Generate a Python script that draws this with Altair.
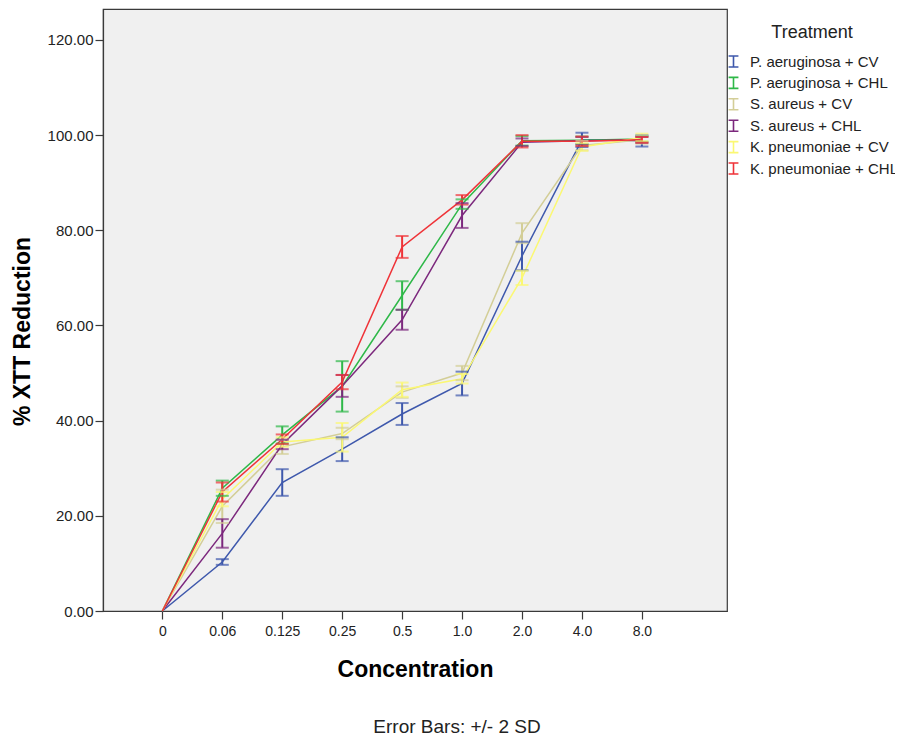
import altair as alt
import pandas as pd

conc_labels = ["0", "0.06", "0.125", "0.25", "0.5", "1.0", "2.0", "4.0", "8.0"]
treatments = ["P. aeruginosa + CV", "P. aeruginosa + CHL", "S. aureus + CV",
              "S. aureus + CHL", "K. pneumoniae + CV", "K. pneumoniae + CHL"]
colors = ["#3E58AC", "#2EB848", "#D3CE97", "#7C287D", "#FBF873", "#EF3338"]

pa_cv_mean = [0, 10.3, 27.0, 34.0, 41.4, 47.8, 74.6, 99.0, 98.8]
pa_cv_err = [0, 0.6, 2.8, 2.5, 2.3, 2.5, 3.0, 1.5, 1.2]
pa_chl_mean = [0, 25.8, 37.0, 47.2, 66.3, 85.5, 98.8, 98.9, 99.2]
pa_chl_err = [0, 1.6, 1.8, 5.3, 3.0, 1.0, 1.0, 0.8, 0.6]
sa_cv_mean = [0, 22.0, 34.5, 37.3, 46.0, 50.0, 79.4, 97.8, 99.0]
sa_cv_err = [0, 3.5, 1.5, 1.2, 1.2, 1.5, 2.1, 1.0, 0.8]
sa_chl_mean = [0, 16.3, 35.0, 47.3, 61.2, 83.1, 98.5, 98.8, 99.0]
sa_chl_err = [0, 3.0, 1.0, 2.3, 2.1, 2.6, 0.8, 0.8, 0.6]
kp_cv_mean = [0, 23.5, 35.5, 36.5, 46.5, 48.8, 70.0, 97.5, 99.5]
kp_cv_err = [0, 1.5, 1.0, 3.0, 1.5, 1.0, 1.5, 0.8, 0.8]
kp_chl_mean = [0, 25.0, 36.1, 48.1, 76.5, 86.4, 98.7, 98.7, 99.0]
kp_chl_err = [0, 2.0, 1.0, 1.5, 2.3, 1.0, 1.3, 1.0, 0.6]

means = [pa_cv_mean, pa_chl_mean, sa_cv_mean, sa_chl_mean, kp_cv_mean, kp_chl_mean]
errs = [pa_cv_err, pa_chl_err, sa_cv_err, sa_chl_err, kp_cv_err, kp_chl_err]

rows = []
for ti, t in enumerate(treatments):
    for ci, lab in enumerate(conc_labels):
        m = means[ti][ci]
        e = errs[ti][ci]
        rows.append({"idx": ci, "conc": lab, "Treatment": t, "order": ti,
                     "mean": m, "lo": m - e, "hi": m + e, "err": e})
df = pd.DataFrame(rows)

label_expr = "[" + ",".join("'" + l + "'" for l in conc_labels) + "][datum.value]"
FONT = "Liberation Sans"

x_enc = alt.X("idx:Q",
              scale=alt.Scale(domain=[-0.99, 9.42], nice=False, zero=False),
              axis=alt.Axis(title="Concentration", values=list(range(len(conc_labels))),
                            labelExpr=label_expr, grid=False, tickSize=8,
                            labelPadding=5, titlePadding=20))
y_scale = alt.Scale(domain=[0, 126.5], nice=False)
color_scale = alt.Scale(domain=treatments, range=colors)
color_enc = alt.Color("Treatment:N", scale=color_scale,
                      legend=alt.Legend(orient="none", legendX=623, legendY=15,
                                        title="Treatment",
                                        symbolType="M-0.9,-1H0.9M0,-1V1M-0.9,1H0.9",
                                        symbolSize=120, symbolStrokeWidth=1.6,
                                        labelOffset=9, rowPadding=2.4,
                                        titlePadding=12))

base = alt.Chart(df)

lines = base.mark_line(strokeWidth=1.5).encode(
    x=x_enc,
    y=alt.Y("mean:Q", scale=y_scale,
            axis=alt.Axis(title="% XTT Reduction", format=".2f",
                          values=[0, 20, 40, 60, 80, 100, 120], grid=False,
                          tickSize=8, labelPadding=2, titlePadding=13,
                          labelFontSize=15, titleY=322)),
    color=color_enc,
    order=alt.Order("idx:Q"),
)

eb = base.transform_filter("datum.err > 0")
nolegend = alt.Color("Treatment:N", scale=color_scale, legend=None)

rules = eb.mark_rule(strokeWidth=2).encode(
    x="idx:Q",
    y=alt.Y("lo:Q", scale=y_scale),
    y2="hi:Q",
    color=nolegend,
)
cap_lo = eb.mark_tick(thickness=2, size=13, orient="horizontal").encode(
    x="idx:Q",
    y=alt.Y("lo:Q", scale=y_scale),
    color=nolegend,
)
cap_hi = eb.mark_tick(thickness=2, size=13, orient="horizontal").encode(
    x="idx:Q",
    y=alt.Y("hi:Q", scale=y_scale),
    color=nolegend,
)

chart = alt.layer(lines, rules, cap_lo, cap_hi).properties(
    width=624, height=602,
    autosize=alt.AutoSizeParams(type="none"),
    padding={"left": 95, "top": 1, "right": 168, "bottom": 130},
    title=alt.TitleParams("Error Bars: +/- 2 SD", orient="bottom", anchor="middle",
                          offset=37, dx=42, fontSize=19, fontWeight="normal",
                          font=FONT, color="#222222"),
).configure_view(
    fill="#F0F0F0", stroke="#3a3a3a", strokeWidth=1.2
).configure_axis(
    labelFont=FONT, labelFontSize=14, labelColor="#222222",
    titleFont=FONT, titleFontSize=23, titleFontWeight="bold", titleColor="#000000",
    domainColor="#3a3a3a", tickColor="#3a3a3a", domainWidth=1.2, tickWidth=1.2,
).configure_legend(
    labelFont=FONT, labelFontSize=15, labelColor="#222222",
    titleFont=FONT, titleFontSize=18, titleFontWeight="normal", titleColor="#222222",
    titleAnchor="middle",
)

chart.save("out.html", embed_options={"renderer": "svg", "actions": False})
